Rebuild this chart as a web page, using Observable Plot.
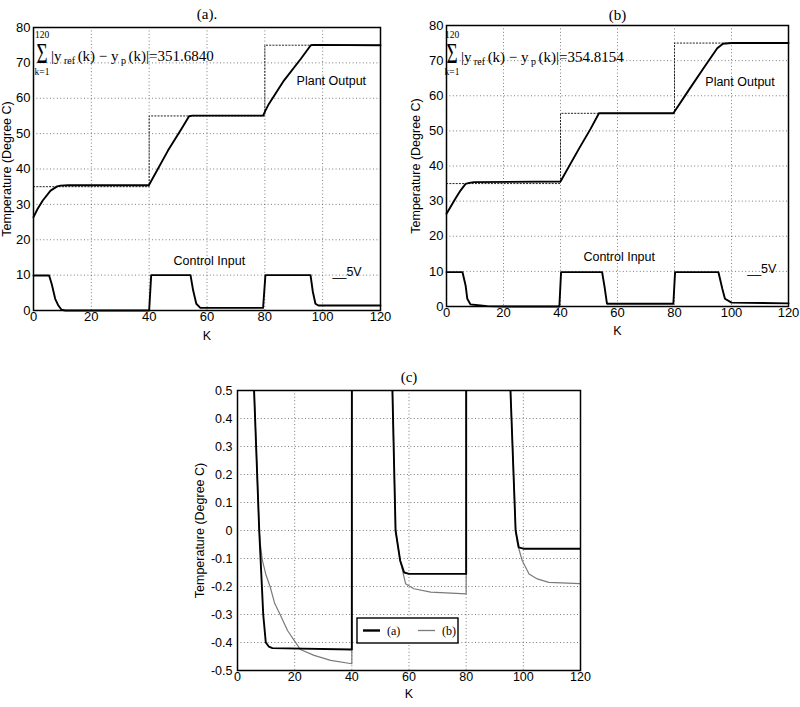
<!DOCTYPE html>
<html>
<head>
<meta charset="utf-8">
<script src="https://cdn.jsdelivr.net/npm/d3@7"></script>
<script src="https://cdn.jsdelivr.net/npm/@observablehq/plot@0.6"></script>
<style>
  body { margin: 0; background: #fff; }
  #fig { position: relative; width: 800px; height: 707px; overflow: hidden; background: #fff; }
  #fig > div { position: absolute; }
  #pa { left: 0; top: 0; }
  #pb { left: 400px; top: 0; }
  #pc { left: 190px; top: 350px; }
</style>
</head>
<body>
<div id="fig"><div id="pa"></div><div id="pb"></div><div id="pc"></div></div>
<script>
// ---- axes ----
const kTicks = [0, 20, 40, 60, 80, 100, 120];
const kGrid = [20, 40, 60, 80, 100];
const tempTicks = [0, 10, 20, 30, 40, 50, 60, 70, 80];
const tempGrid = [10, 20, 30, 40, 50, 60, 70];
const errTicks = [0.5, 0.4, 0.3, 0.2, 0.1, 0, -0.1, -0.2, -0.3, -0.4, -0.5];
const errGrid = [0.4, 0.3, 0.2, 0.1, 0, -0.1, -0.2, -0.3, -0.4];

// ---- set-point (step reference) ----
const refK = [0, 40, 80, 120];
const refTemp = [35, 55, 75, 75];

// ---- controller (a) ----
const outAK = [0, 1.4, 3.2, 5.9, 8.2, 9.3, 12, 39.9, 46.5, 51.2, 53.8, 55, 79.4, 80.2, 81.4, 86.6, 92.4, 95.9, 97, 120];
const outAT = [26.4, 28.7, 31.1, 33.9, 35.1, 35.3, 35.4, 35.4, 45.2, 51.4, 54.9, 55.1, 55.1, 56.5, 58.4, 65, 71.1, 75, 75.1, 75];
const ctlAK = [0, 5.4, 6.3, 7.5, 8.6, 9.7, 11, 40, 40.7, 54.3, 55.2, 56.3, 57.7, 79.4, 80.2, 95.8, 96.6, 97.5, 98.5, 120];
const ctlAV = [9.9, 9.9, 7.5, 3.3, 1.4, 0.2, 0, 0, 10, 10, 5.7, 1.9, 0.75, 0.75, 10, 10, 5.3, 1.9, 1.4, 1.4];
const sumA = "351.6840";

// ---- controller (b) ----
const outBK = [0, 1.4, 3.1, 4.9, 6.7, 8, 9.6, 40, 46.4, 50.5, 53.5, 55, 79.6, 85, 90, 95, 97, 100, 120];
const outBT = [26.4, 28.3, 30.7, 33, 34.9, 35.2, 35.4, 35.6, 44.8, 50.5, 55, 55, 55, 61.6, 67.6, 73.5, 74.8, 75, 75];
const ctlBK = [0, 5.6, 6.7, 7.3, 8.4, 11.9, 14.3, 20, 39.6, 40.2, 54.6, 55.5, 56.3, 79.6, 80.2, 95.4, 96.8, 97.7, 100, 120];
const ctlBV = [9.8, 9.8, 6, 2.2, 0.6, 0.3, 0.1, 0, 0, 9.8, 9.8, 5.4, 0.8, 0.8, 9.8, 9.8, 5, 2.2, 1.1, 0.9];
const sumB = "354.8154";

// ---- tracking error comparison ----
const errAK = [0, 3, 5, 5.8, 7.6, 9, 9.9, 11, 12.2, 40, 40.3, 53, 54.2, 55.3, 56.9, 58.3, 60, 80, 80.3, 94.5, 95.5, 97.3, 98.4, 100, 120];
const errAV = [9, 4.5, 1.8, 0.5, 0, -0.3, -0.4, -0.415, -0.42, -0.425, 19.5, 1.5, 0.5, 0, -0.107, -0.15, -0.155, -0.155, 19.5, 1.2, 0.5, 0, -0.06, -0.065, -0.065];
const errBK = [0, 3, 5, 5.8, 7.6, 8, 8.7, 10, 11.4, 13, 14.9, 17.5, 20, 22, 26.8, 32.6, 40, 40.3, 53, 54.2, 55.3, 56.9, 58.8, 61.7, 67.6, 80, 80.3, 94.5, 95.5, 97.3, 98, 99.6, 102, 104.9, 108.9, 120];
const errBV = [9, 4.5, 1.8, 0.5, 0, -0.05, -0.107, -0.16, -0.2, -0.26, -0.3, -0.357, -0.395, -0.425, -0.446, -0.464, -0.476, 19.5, 1.5, 0.5, 0, -0.107, -0.19, -0.208, -0.22, -0.226, 19.5, 1.2, 0.5, 0, -0.05, -0.107, -0.155, -0.173, -0.185, -0.19];

const rows = (ks, vs) => ks.map((k, i) => ({k, v: vs[i]}));

const SANS = "'Liberation Sans', Arial, Helvetica, sans-serif";
const SERIF = "'Liberation Serif', 'Times New Roman', serif";
const gridStyle = {stroke: "#333", strokeOpacity: 0.8, strokeWidth: 0.8, strokeDasharray: "1,2.4"};
const refStyle = {stroke: "#222", strokeWidth: 1, strokeDasharray: "1.2,2"};
const curveStyle = {stroke: "black", strokeWidth: 1.9};

// sum-of-errors formula written above the curves
function addSum(svg, sx, sigmaBase, mainX, base, value) {
  const g = d3.select(svg).append("g").attr("font-family", SERIF)
    .attr("fill", "black").attr("text-anchor", "start");
  g.append("text").attr("transform", `translate(${sx},${sigmaBase}) scale(0.66,1)`)
    .attr("font-size", 29).text("Σ");
  g.append("text").attr("x", sx + 5.5).attr("y", sigmaBase - 25).attr("font-size", 9.5)
    .attr("text-anchor", "middle").text("120");
  g.append("text").attr("x", sx + 5.5).attr("y", sigmaBase + 12).attr("font-size", 9.5)
    .attr("text-anchor", "middle").text("k=1");
  const t = g.append("text").attr("x", mainX).attr("y", base).attr("font-size", 15);
  t.append("tspan").text("|y");
  t.append("tspan").attr("font-size", 10).attr("dy", 3).text(" ref ");
  t.append("tspan").attr("dy", -3).text("(k) − y");
  t.append("tspan").attr("font-size", 10).attr("dy", 3).text(" p ");
  t.append("tspan").attr("dy", -3).text("(k)|=" + value);
}

function responsePanel({title, titleDy, kDy, yDx, h, m, out, ctl, notes, volt}) {
  return Plot.plot({
    width: 400, height: h,
    marginLeft: m[0], marginRight: m[1], marginTop: m[2], marginBottom: m[3],
    style: {fontFamily: SANS, fontSize: "13px", background: "transparent"},
    x: {domain: [0, 120], ticks: kTicks, tickSize: 0, tickPadding: 1, label: null},
    y: {domain: [0, 80], ticks: tempTicks, tickSize: 0, tickPadding: 3, label: null},
    marks: [
      Plot.gridX({ticks: kGrid, ...gridStyle}),
      Plot.gridY({ticks: tempGrid, ...gridStyle}),
      Plot.line(rows(refK, refTemp), {x: "k", y: "v", curve: "step-after", ...refStyle}),
      Plot.line(out, {x: "k", y: "v", ...curveStyle}),
      Plot.line(ctl, {x: "k", y: "v", ...curveStyle}),
      Plot.text(notes, {x: "k", y: "v", text: "label", fontSize: 12.5}),
      Plot.text(volt, {x: "k", y: "v", text: "label", textAnchor: "start", fontSize: 12.5}),
      Plot.text([title], {text: d => d, frameAnchor: "top", lineAnchor: "middle", dy: titleDy, fontFamily: SERIF, fontSize: 15}),
      Plot.text(["K"], {text: d => d, frameAnchor: "bottom", lineAnchor: "middle", dy: kDy, fontSize: 12.5}),
      Plot.text(["Temperature (Degree C)"], {text: d => d, frameAnchor: "left", textAnchor: "middle", lineAnchor: "middle", dx: yDx, rotate: -90, fontSize: 12.5}),
      Plot.frame({stroke: "black", strokeWidth: 1.5})
    ]
  });
}

const notesA = [
  {k: 103, v: 65, label: "Plant Output"},
  {k: 60.8, v: 14.1, label: "Control Input"}
];
const voltA = [{k: 103.4, v: 11, label: "__5V"}];
const notesB = [
  {k: 103, v: 64, label: "Plant Output"},
  {k: 60.6, v: 14, label: "Control Input"}
];
const voltB = [{k: 105.5, v: 10.8, label: "__5V"}];

const svgA = responsePanel({
  title: "(a).", titleDy: -13, kDy: 25, yDx: -27, h: 346, m: [33, 20, 27, 36],
  out: rows(outAK, outAT), ctl: rows(ctlAK, ctlAV), notes: notesA, volt: voltA
});
addSum(svgA, 36.5, 63, 51, 61, sumA);
document.getElementById("pa").append(svgA);

const svgB = responsePanel({
  title: "(b)", titleDy: -10, kDy: 24, yDx: -31, h: 345, m: [46, 12, 25, 39],
  out: rows(outBK, outBT), ctl: rows(ctlBK, ctlBV), notes: notesB, volt: voltB
});
addSum(svgB, 46.5, 63, 61, 62, sumB);
document.getElementById("pb").append(svgB);

const svgC = Plot.plot({
  width: 420, height: 357,
  marginLeft: 47, marginRight: 30, marginTop: 40, marginBottom: 37,
  style: {fontFamily: SANS, fontSize: "12.5px", background: "transparent"},
  x: {domain: [0, 120], ticks: kTicks, tickSize: 0, tickPadding: 2, label: null},
  y: {domain: [-0.5, 0.5], ticks: errTicks, tickSize: 0, tickPadding: 5, label: null,
      tickFormat: d => d === 0 ? "0" : d.toFixed(1)},
  marks: [
    Plot.gridX({ticks: kGrid, ...gridStyle}),
    Plot.gridY({ticks: errGrid, ...gridStyle}),
    Plot.line(rows(errBK, errBV), {x: "k", y: "v", stroke: "#7a7a7a", strokeWidth: 1.2, clip: true}),
    Plot.line(rows(errAK, errAV), {x: "k", y: "v", stroke: "black", strokeWidth: 1.9, clip: true}),
    Plot.text(["(c)"], {text: d => d, frameAnchor: "top", lineAnchor: "middle", dy: -13, fontFamily: SERIF, fontSize: 15}),
    Plot.text(["K"], {text: d => d, frameAnchor: "bottom", lineAnchor: "middle", dy: 23, fontSize: 12.5}),
    Plot.text(["Temperature (Degree C)"], {text: d => d, frameAnchor: "left", textAnchor: "middle", lineAnchor: "middle", dx: -38, rotate: -90, fontSize: 12.5}),
    Plot.frame({stroke: "black", strokeWidth: 1.5})
  ]
});

// legend box
const series = [
  {name: "(a)", color: "black", width: 2.4},
  {name: "(b)", color: "#7a7a7a", width: 1.3}
];
{
  const lg = d3.select(svgC).append("g").attr("transform", "translate(167,268)")
    .attr("text-anchor", "start");
  lg.append("rect").attr("width", 101).attr("height", 25)
    .attr("fill", "white").attr("stroke", "black").attr("stroke-width", 1.4);
  series.forEach((s, i) => {
    const x0 = 6 + i * 55;
    lg.append("line").attr("x1", x0).attr("x2", x0 + 17).attr("y1", 12.5).attr("y2", 12.5)
      .attr("stroke", s.color).attr("stroke-width", s.width);
    lg.append("text").attr("x", x0 + 24).attr("y", 17).attr("font-family", SERIF)
      .attr("font-size", 12).text(s.name);
  });
}
document.getElementById("pc").append(svgC);
</script>
</body>
</html>
